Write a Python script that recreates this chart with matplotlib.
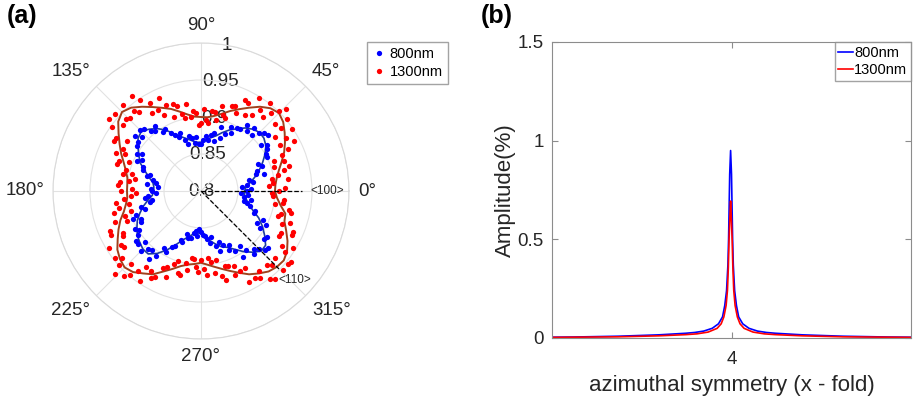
import numpy as np
import matplotlib
matplotlib.use("Agg")
import matplotlib.pyplot as plt

plt.rcParams['font.family'] = ['Liberation Sans', 'DejaVu Sans']

# (a) measured polar data, blue = 800 nm, red = 1300 nm
blue_theta = np.arange(0, 360, 2.5)
blue_r = [0.862, 0.868, 0.856, 0.863, 0.872, 0.866, 0.888, 0.878, 0.880, 0.889,
          0.885, 0.900, 0.901, 0.905, 0.909, 0.903, 0.918, 0.916, 0.910, 0.903,
          0.912, 0.903, 0.909, 0.899, 0.898, 0.889, 0.895, 0.884, 0.876, 0.891,
          0.870, 0.880, 0.877, 0.870, 0.874, 0.869, 0.864, 0.864, 0.873, 0.866,
          0.873, 0.876, 0.866, 0.872, 0.884, 0.879, 0.883, 0.889, 0.897, 0.895,
          0.908, 0.903, 0.906, 0.914, 0.916, 0.908, 0.916, 0.908, 0.905, 0.894,
          0.900, 0.890, 0.896, 0.885, 0.883, 0.872, 0.876, 0.866, 0.862, 0.873,
          0.858, 0.868, 0.866, 0.861, 0.872, 0.877, 0.867, 0.870, 0.884, 0.880,
          0.893, 0.899, 0.889, 0.892, 0.903, 0.899, 0.904, 0.911, 0.912, 0.903,
          0.914, 0.907, 0.904, 0.916, 0.907, 0.892, 0.895, 0.885, 0.882, 0.872,
          0.874, 0.861, 0.866, 0.865, 0.857, 0.855, 0.861, 0.851, 0.855, 0.859,
          0.861, 0.866, 0.872, 0.864, 0.877, 0.885, 0.873, 0.879, 0.888, 0.882,
          0.893, 0.905, 0.891, 0.901, 0.912, 0.906, 0.910, 0.918, 0.919, 0.907,
          0.909, 0.894, 0.887, 0.899, 0.892, 0.878, 0.878, 0.869, 0.865, 0.860,
          0.868, 0.858, 0.864, 0.854]

red_theta = np.arange(0, 360, 2)
red_r = [0.905, 0.913, 0.892, 0.898, 0.919, 0.897, 0.906, 0.916, 0.924, 0.904,
         0.920, 0.907, 0.920, 0.931, 0.943, 0.923, 0.936, 0.949, 0.923, 0.938,
         0.951, 0.935, 0.960, 0.951, 0.941, 0.931, 0.951, 0.935, 0.924, 0.948,
         0.918, 0.935, 0.937, 0.916, 0.924, 0.922, 0.904, 0.907, 0.919, 0.898,
         0.908, 0.909, 0.892, 0.896, 0.911, 0.892, 0.889, 0.905, 0.909, 0.901,
         0.919, 0.901, 0.907, 0.919, 0.923, 0.907, 0.926, 0.938, 0.915, 0.924,
         0.938, 0.925, 0.948, 0.959, 0.935, 0.941, 0.957, 0.938, 0.940, 0.956,
         0.938, 0.957, 0.948, 0.921, 0.936, 0.936, 0.920, 0.915, 0.925, 0.905,
         0.918, 0.920, 0.905, 0.896, 0.908, 0.891, 0.898, 0.910, 0.912, 0.893,
         0.908, 0.888, 0.895, 0.904, 0.916, 0.899, 0.913, 0.921, 0.898, 0.908,
         0.923, 0.908, 0.934, 0.935, 0.920, 0.922, 0.946, 0.931, 0.929, 0.948,
         0.940, 0.950, 0.962, 0.937, 0.955, 0.949, 0.938, 0.927, 0.947, 0.928,
         0.936, 0.932, 0.916, 0.913, 0.926, 0.905, 0.899, 0.915, 0.917, 0.900,
         0.909, 0.891, 0.892, 0.903, 0.909, 0.893, 0.905, 0.914, 0.891, 0.897,
         0.912, 0.895, 0.918, 0.925, 0.906, 0.908, 0.923, 0.911, 0.921, 0.939,
         0.920, 0.938, 0.942, 0.934, 0.951, 0.956, 0.934, 0.939, 0.954, 0.935,
         0.953, 0.955, 0.940, 0.932, 0.946, 0.922, 0.922, 0.937, 0.936, 0.918,
         0.928, 0.910, 0.912, 0.925, 0.922, 0.901, 0.912, 0.913, 0.897, 0.896]

# fitted curves, every 5 deg
fit_theta = np.arange(0, 360, 5)
blue_fit = [0.859, 0.861, 0.868, 0.876, 0.884, 0.892, 0.900, 0.907, 0.911, 0.912, 0.909, 0.904,
            0.897, 0.891, 0.884, 0.877, 0.873, 0.869, 0.866, 0.866, 0.869, 0.873, 0.878, 0.885,
            0.895, 0.903, 0.909, 0.914, 0.911, 0.904, 0.897, 0.891, 0.881, 0.873, 0.866, 0.864,
            0.864, 0.866, 0.873, 0.881, 0.888, 0.895, 0.900, 0.905, 0.908, 0.911, 0.911, 0.903,
            0.892, 0.880, 0.870, 0.864, 0.859, 0.857, 0.857, 0.861, 0.868, 0.874, 0.880, 0.884,
            0.891, 0.900, 0.908, 0.915, 0.914, 0.905, 0.896, 0.886, 0.874, 0.866, 0.862, 0.859]
red_fit = [0.900, 0.901, 0.904, 0.909, 0.916, 0.924, 0.931, 0.938, 0.945, 0.949, 0.946, 0.939,
           0.930, 0.922, 0.915, 0.908, 0.903, 0.900, 0.900, 0.901, 0.905, 0.911, 0.918, 0.924,
           0.931, 0.939, 0.947, 0.951, 0.946, 0.936, 0.927, 0.919, 0.911, 0.905, 0.901, 0.900,
           0.900, 0.900, 0.903, 0.908, 0.916, 0.923, 0.930, 0.938, 0.943, 0.946, 0.943, 0.936,
           0.930, 0.920, 0.912, 0.905, 0.901, 0.899, 0.897, 0.900, 0.904, 0.909, 0.915, 0.922,
           0.930, 0.936, 0.942, 0.945, 0.946, 0.942, 0.935, 0.927, 0.920, 0.918, 0.909, 0.903]

r_ticks = [0.8, 0.85, 0.9, 0.95, 1.0]
r_tick_labels = ['0.8', '0.85', '0.9', '0.95', '1']
theta_ticks = [0, 45, 90, 135, 180, 225, 270, 315]

# (b) amplitude spectra
blue_x = [0, 0.48, 1.48, 2.38, 2.98, 3.18, 3.38, 3.57, 3.71, 3.80, 3.85, 3.89, 3.92, 3.935, 3.96,
          3.98, 4.00, 4.025, 4.04, 4.07, 4.11, 4.16, 4.25, 4.39, 4.58, 4.78, 4.98, 5.58, 6.48, 7.48, 8.0]
blue_y = [0.004, 0.005, 0.009, 0.016, 0.024, 0.028, 0.035, 0.049, 0.072, 0.107, 0.165, 0.24, 0.37, 0.50, 0.83,
          0.95, 0.83, 0.50, 0.37, 0.24, 0.165, 0.107, 0.072, 0.049, 0.035, 0.028, 0.024, 0.016, 0.009, 0.005, 0.004]
red_x = [0, 0.48, 1.48, 2.38, 2.98, 3.23, 3.48, 3.68, 3.77, 3.83, 3.88, 3.91, 3.93, 3.945, 3.962,
         3.98, 3.998, 4.015, 4.03, 4.05, 4.08, 4.13, 4.19, 4.28, 4.48, 4.73, 4.98, 5.58, 6.48, 7.48, 8.0]
red_y = [0.003, 0.004, 0.006, 0.011, 0.017, 0.021, 0.030, 0.049, 0.072, 0.107, 0.165, 0.242, 0.36, 0.495, 0.60,
         0.694, 0.60, 0.495, 0.36, 0.242, 0.165, 0.107, 0.072, 0.049, 0.030, 0.021, 0.017, 0.011, 0.006, 0.004, 0.003]
y_ticks = [0, 0.5, 1, 1.5]
y_tick_labels = ['0', '0.5', '1', '1.5']

W, H = 915, 404
fig = plt.figure(figsize=(W / 100, H / 100), dpi=100)
txt = '#262626'

# ---- polar panel
ax = fig.add_axes([53 / W, 1 - 339 / H, 296 / W, 296 / H], projection='polar')
ax.set_ylim(0.8, 1.0)
ax.set_yticks(r_ticks)
ax.set_yticklabels([])
ax.set_thetagrids(theta_ticks, labels=[''] * len(theta_ticks))
ax.grid(color='#e2e2e2', lw=0.8)
ax.spines['polar'].set_color('#dadada')
ax.spines['polar'].set_linewidth(0.8)

# angle labels sit just outside the rim, aligned on their inner side
gap = 9 / 296
for t in theta_ticks:
    c, s = np.cos(np.deg2rad(t)), np.sin(np.deg2rad(t))
    ha = 'left' if c > 0.1 else ('right' if c < -0.1 else 'center')
    va = 'bottom' if s > 0.1 else ('top' if s < -0.1 else 'center')
    ax.text(0.5 + (0.5 + gap) * c, 0.5 + (0.5 + gap) * s, '%d°' % t, transform=ax.transAxes,
            ha=ha, va=va, fontsize=13.5, color=txt)

for r, lab in zip(r_ticks, r_tick_labels):
    ax.text(np.deg2rad(80), r, lab, ha='center', va='center', fontsize=13.5, color=txt, zorder=1.5)

ax.plot(np.deg2rad(np.append(fit_theta, 360)), blue_fit + blue_fit[:1], color='#1c3ca0', lw=1.2, zorder=2)
ax.plot(np.deg2rad(np.append(fit_theta, 360)), red_fit + red_fit[:1], color='#a0401c', lw=1.4, zorder=2)
hb, = ax.plot(np.deg2rad(blue_theta), blue_r, 'o', color='#0000ff', ms=3.8, mec='none', zorder=3, label='800nm')
hr, = ax.plot(np.deg2rad(red_theta), red_r, 'o', color='#ff0000', ms=3.8, mec='none', zorder=3, label='1300nm')

# crystal directions
ax.plot([0, 0], [0.8, 0.937], 'k--', lw=0.9, zorder=4)
ax.plot([np.deg2rad(315), np.deg2rad(315)], [0.8, 0.949], 'k--', lw=0.9, zorder=4)
fig.text(310 / W, 1 - 191 / H, '<100>', fontsize=8.5, ha='left', va='center', color=txt)
fig.text(278 / W, 1 - 280 / H, '<110>', fontsize=8.5, ha='left', va='center', color=txt)

ax.legend(handles=[hb, hr], loc='upper left', bbox_to_anchor=(367 / W, 1 - 42 / H),
          bbox_transform=fig.transFigure, fontsize=10.5, frameon=True, fancybox=False,
          edgecolor='#8c8c8c', handlelength=0.9, handletextpad=0.3, borderpad=0.35,
          labelspacing=0.25, borderaxespad=0)

fig.text(7 / W, 1 - 4 / H, '(a)', fontsize=18, weight='bold', va='top', ha='left')
fig.text(481 / W, 1 - 4 / H, '(b)', fontsize=18, weight='bold', va='top', ha='left')

# ---- spectrum panel
ax2 = fig.add_axes([552 / W, 1 - 338 / H, (911 - 552) / W, (338 - 42) / H])
ax2.plot(blue_x, blue_y, color='#0000ff', lw=1.2, label='800nm')
ax2.plot(red_x, red_y, color='#ff0000', lw=1.2, label='1300nm')
ax2.set_xlim(0, 8)
ax2.set_ylim(0, 1.5)
ax2.set_xticks([4])
ax2.set_yticks(y_ticks)
ax2.set_yticklabels(y_tick_labels)
ax2.tick_params(direction='in', top=True, right=True, length=4, width=0.8, color='#8c8c8c',
                labelsize=13.5, labelcolor=txt)
ax2.tick_params(axis='x', pad=9)
ax2.tick_params(axis='y', pad=6)
for s in ax2.spines.values():
    s.set_color('#8c8c8c')
    s.set_linewidth(0.8)
ax2.set_ylabel('Amplitude(%)', fontsize=16, color=txt)
ax2.set_xlabel('azimuthal symmetry (x - fold)', fontsize=16, color=txt)
ax2.yaxis.set_label_coords(-0.10, 0.5)
ax2.xaxis.set_label_coords(0.5, -0.125)
ax2.legend(loc='upper right', fontsize=10.5, fancybox=False, edgecolor='#8c8c8c',
           handlelength=1.0, handletextpad=0.1, borderpad=0.25, labelspacing=0.25,
           borderaxespad=0)

fig.savefig('out.png', dpi=100)
